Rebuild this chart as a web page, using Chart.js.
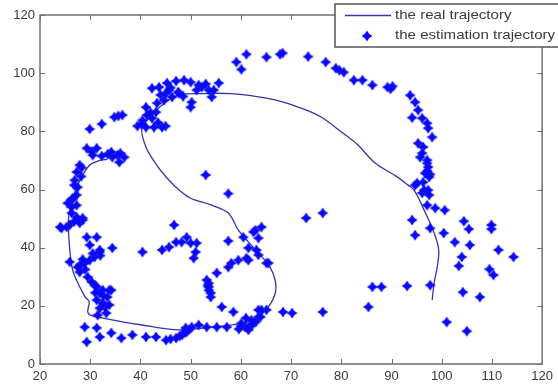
<!DOCTYPE html>
<html>
<head>
<meta charset="utf-8">
<script src="https://cdn.jsdelivr.net/npm/chart.js@4.4.1/dist/chart.umd.min.js"></script>
<style>
  html, body { margin: 0; padding: 0; background: #fff; }
  #wrap { width: 558px; height: 389px; }
</style>
</head>
<body>
<div id="wrap"><canvas id="chart" width="558" height="389"></canvas></div>
<script>
// Series labels, as written in the legend.
var realLabel = 'the real trajectory';
var estLabel  = 'the estimation trajectory';

// Axis ticks.
var xTicks = [20, 30, 40, 50, 60, 70, 80, 90, 100, 110, 120];
var yTicks = [0, 20, 40, 60, 80, 100, 120];

// The real trajectory, in drawing order.
var realX = [98.1, 98.5, 99.1, 99.4, 98.5, 96.5, 94.5, 93.3, 91.0, 86.8, 83.2, 80.3, 75.9, 72.0,
             67.0, 62.0, 58.0, 52.0, 47.7, 45.0, 42.5, 40.3, 41.1, 43.0, 45.1, 47.7, 50.0, 54.2,
             57.5, 59.5, 61.5, 62.9, 65.8, 67.0, 66.0, 63.5, 60.1, 54.2, 47.7, 40.0, 32.5, 30.0,
             29.5, 29.8, 29.0, 27.5, 26.5, 26.0, 25.7, 25.7, 26.5, 27.9, 29.9, 31.9, 33.4];
var realY = [22.0, 28.0, 33.3, 39.2, 45.0, 52.9, 59.8, 61.5, 64.5, 69.0, 75.5, 79.4, 85.0, 88.0,
             90.7, 92.3, 93.0, 93.0, 92.5, 90.0, 86.0, 81.0, 74.6, 69.0, 64.3, 59.8, 57.0, 54.6,
             51.9, 46.0, 42.0, 39.2, 33.3, 26.5, 21.0, 16.2, 14.0, 12.7, 11.7, 13.5, 15.8, 16.8,
             18.0, 21.5, 23.0, 28.0, 32.3, 38.0, 45.0, 50.5, 57.0, 63.0, 68.4, 70.0, 70.4];

// The estimated positions, read point by point.
var estX = [
  // top left cluster
  55.6, 54.6, 54.2, 51.6, 50.0, 48.7, 47.1, 45.3, 43.7, 42.3, 45.1, 46.3, 44.7, 43.3, 41.1, 41.3,
  40.4, 39.4, 41.1, 42.7, 44.3, 42.3, 43.1, 50.2, 50.0, 51.2, 52.2, 53.0, 46.0, 47.5, 48.5, 44.0,
  42.0, 40.2, 43.5, 45.0, 47.7, 45.7, 53.6,
  // top row
  61.1, 59.1, 60.1, 65.1, 67.8, 68.3, 73.4, 76.9, 78.9, 79.6, 80.5, 82.5, 84.2, 86.2, 89.2, 89.8, 90.2,
  // right descending arc
  93.7, 94.7, 95.3, 94.1, 96.1, 97.1, 97.3, 98.1, 95.3, 96.3, 96.1, 95.7, 97.1, 97.3, 96.7, 97.7,
  96.3, 94.7, 97.3, 96.1, 97.5, 95.1, 96.5, 97.5, 97.1, 98.7, 100.6, 97.1, 97.1,
  // right scatter
  94.1, 94.7, 97.7, 100.4, 104.4, 105.4, 109.9, 109.9, 102.6, 105.6, 111.3, 114.3, 104.0, 103.4,
  109.5, 110.3, 93.1, 97.7, 104.2, 107.6, 101.0, 105.0, 86.2, 88.0, 85.4, 73.0, 76.3, 76.3, 68.4, 70.2,
  // left arc, upper part
  36.4, 35.6, 34.8, 32.3, 29.9, 29.3, 31.3, 30.5, 32.3, 34.2, 35.4, 36.8, 35.8, 34.4, 33.5, 30.3,
  36.0, 27.9, 28.3, 27.3, 26.9, 27.5, 27.3, 26.3, 26.5, 26.3, 25.5, 27.3, 26.3, 27.3, 28.5, 25.3,
  24.0, 24.3, 25.9, 27.9, 28.5, 26.8, 28.2, 26.8,
  // left side, lower part
  29.3, 31.3, 29.9, 31.9, 30.9, 29.9, 28.9, 25.9, 27.5, 27.9, 29.5, 30.3, 34.4, 31.3, 32.5, 33.8,
  31.9, 33.4, 31.3, 32.5, 33.8, 31.9, 31.5, 33.2, 31.9, 30.5, 32.0, 28.5, 30.9, 34.2, 32.6, 31.0,
  32.9, 29.0, 28.0,
  // bottom row
  28.9, 31.3, 29.3, 31.9, 34.2, 36.2, 38.4, 41.1, 43.1, 45.1, 47.1, 48.3, 49.2, 50.2, 49.0, 48.8,
  49.6, 51.6, 53.2, 55.2, 57.2, 46.0, 47.8,
  // middle
  46.7, 40.4, 44.3, 45.7, 47.1, 48.2, 49.2, 50.0, 51.2, 51.0, 50.6, 53.0, 57.5,
  // middle loop
  53.2, 53.6, 53.6, 53.6, 54.0, 54.0, 53.4, 55.2, 57.5, 58.1, 59.5, 61.1, 61.5, 56.2, 58.5, 57.5,
  60.5, 62.5, 64.1, 62.9, 63.5, 63.1, 61.5, 63.5, 65.1, 65.5,
  // bottom right cluster
  60.1, 61.5, 62.9, 63.5, 64.1, 63.5, 65.1, 60.9, 62.1, 63.9, 61.5, 60.0, 62.3, 59.6, 61.0
];
var estY = [
  96.6, 94.2, 91.8, 95.9, 96.9, 97.6, 97.3, 96.6, 95.2, 94.8, 93.1, 91.8, 90.7, 89.7, 88.3, 85.6,
  83.8, 81.8, 81.4, 81.4, 81.4, 84.5, 86.6, 90.0, 88.3, 94.2, 95.2, 96.3, 95.0, 93.5, 92.0, 92.5,
  86.5, 82.5, 83.0, 81.8, 93.1, 94.2, 94.2,
  106.5, 103.8, 101.3, 105.5, 106.5, 106.9, 105.7, 103.8, 101.7, 101.0, 100.3, 97.6, 97.6, 95.9, 95.2, 94.6, 95.5,
  92.4, 90.0, 87.3, 84.7, 84.5, 82.8, 81.1, 78.0, 75.9, 74.6, 72.5, 71.1, 70.1, 67.7, 65.6, 65.2,
  62.5, 61.5, 59.8, 58.8, 64.3, 62.2, 59.8, 58.1, 54.6, 53.6, 52.9, 69.0, 66.3,
  49.5, 44.3, 46.7, 45.0, 49.1, 46.4, 47.8, 46.4, 41.9, 40.9, 39.2, 36.8, 36.8, 33.7,
  32.6, 30.6, 26.8, 27.1, 24.7, 23.0, 14.4, 11.3, 26.5, 26.5, 19.6, 50.2, 51.9, 17.9, 17.9, 17.5,
  85.6, 85.3, 84.9, 82.5, 80.8, 74.2, 74.2, 71.8, 71.5, 72.9, 71.8, 71.1, 69.4, 71.1, 72.2, 73.0,
  72.5, 68.4, 67.5, 66.0, 63.2, 60.8, 58.1, 56.4, 57.0, 54.0, 55.3, 54.6, 51.9, 50.5, 50.2, 47.1,
  47.1, 46.7, 47.8, 48.5, 49.5, 49.0, 64.5, 61.5,
  43.6, 43.6, 40.9, 39.2, 36.8, 35.7, 34.7, 35.1, 33.3, 31.6, 29.9, 28.2, 39.9, 26.5, 25.4, 25.4,
  24.4, 23.0, 22.0, 21.0, 20.3, 19.2, 16.8, 17.5, 38.5, 38.0, 37.3, 36.0, 27.1, 25.4, 23.5, 24.5,
  19.6, 32.5, 34.0,
  12.7, 12.4, 7.6, 9.3, 10.7, 8.9, 10.0, 9.3, 9.3, 8.2, 8.9, 10.0, 11.0, 12.7, 12.4, 10.8,
  11.8, 13.4, 12.7, 12.7, 12.7, 8.6, 9.6,
  47.8, 38.5, 39.2, 40.2, 41.9, 41.9, 43.6, 41.6, 41.6, 38.5, 36.4, 65.0, 58.6,
  28.9, 27.8, 26.5, 25.4, 24.4, 23.0, 27.0, 31.3, 33.3, 34.7, 35.7, 36.4, 35.7, 19.6, 17.9, 42.3,
  43.6, 45.4, 47.1, 46.0, 43.3, 39.2, 39.9, 37.5, 34.7, 34.7,
  14.0, 12.7, 14.4, 16.2, 18.6, 18.6, 18.6, 12.7, 15.1, 16.2, 11.7, 13.0, 13.5, 12.0, 15.8
];

var LINE_COLOR   = '#3434ac';
var MARKER_COLOR = '#0a0af5';
var AXIS_COLOR   = '#6f6f6f';
var TEXT_COLOR   = '#3a3a3a';
var FONT_FAMILY  = '"Liberation Sans", Arial, sans-serif';

// Builds the blurry diamond-like asterisk used for the estimated points.
function makeMarker(color){
  var size = 14;
  var c = document.createElement('canvas');
  c.width = size;
  c.height = size;
  var g = c.getContext('2d');
  var m = size / 2;
  g.fillStyle = color;
  g.shadowColor = 'rgba(40,40,255,0.6)';
  g.shadowBlur = 1.5;
  g.beginPath();
  for (var k = 0; k < 8; k++) {
    var ang = -Math.PI / 2 + k * Math.PI / 4;
    var rad = (k % 2 == 0) ? 5.3 : 3.0;
    var px = m + rad * Math.cos(ang);
    var py = m + rad * Math.sin(ang);
    if (k == 0) g.moveTo(px, py); else g.lineTo(px, py);
  }
  g.closePath();
  g.fill();
  return c;
}

var marker = makeMarker(MARKER_COLOR);

function toPoints(xs, ys){
  var pts = [];
  for (var i = 0; i < xs.length; i++) pts.push({ x: xs[i], y: ys[i] });
  return pts;
}

// Legend text in the source is a little wider than the font, so stretch it.
function stretchedText(ctx, text, x, y, sx){
  ctx.save();
  ctx.translate(x, y);
  ctx.scale(sx, 1);
  ctx.fillText(text, 0, 0);
  ctx.restore();
}

// Draws the closed box, inward ticks on all four sides and the legend.
var boxPlugin = {
  id: 'matlabBox',
  afterDraw: function(chart){
    var ctx = chart.ctx;
    var a = chart.chartArea;
    var sx = chart.scales.x;
    var sy = chart.scales.y;
    ctx.save();
    ctx.strokeStyle = AXIS_COLOR;
    ctx.lineWidth = 1.5;
    ctx.strokeRect(a.left, a.top, a.right - a.left, a.bottom - a.top);

    ctx.lineWidth = 1;
    ctx.beginPath();
    xTicks.forEach(function(v){
      var px = Math.round(sx.getPixelForValue(v)) + 0.5;
      ctx.moveTo(px, a.bottom); ctx.lineTo(px, a.bottom - 5);
      ctx.moveTo(px, a.top);    ctx.lineTo(px, a.top + 5);
    });
    yTicks.forEach(function(v){
      var py = Math.round(sy.getPixelForValue(v)) + 0.5;
      ctx.moveTo(a.left, py);  ctx.lineTo(a.left + 5, py);
      ctx.moveTo(a.right, py); ctx.lineTo(a.right - 5, py);
    });
    ctx.stroke();

    // legend box, sitting over the top right corner of the axes
    var lx = 335, ly = 4, lw = 240, lh = 43;
    ctx.fillStyle = '#ffffff';
    ctx.fillRect(lx, ly, lw, lh);
    ctx.strokeStyle = '#555555';
    ctx.lineWidth = 1.5;
    ctx.strokeRect(lx, ly, lw, lh);

    ctx.strokeStyle = LINE_COLOR;
    ctx.lineWidth = 1.3;
    ctx.beginPath();
    ctx.moveTo(345, 15.5); ctx.lineTo(391, 15.5);
    ctx.stroke();
    ctx.drawImage(marker, 367 - marker.width / 2, 36 - marker.height / 2);

    ctx.fillStyle = TEXT_COLOR;
    ctx.font = '13px ' + FONT_FAMILY;
    ctx.textBaseline = 'middle';
    ctx.textAlign = 'left';
    stretchedText(ctx, realLabel, 395, 15, 1.16);
    stretchedText(ctx, estLabel, 395, 35, 1.16);
    ctx.restore();
  }
};

var tickFont = { family: FONT_FAMILY, size: 13 };

new Chart(document.getElementById('chart'), {
  type: 'scatter',
  data: {
    datasets: [{
      label: realLabel,
      data: toPoints(realX, realY),
      showLine: true,
      borderColor: LINE_COLOR,
      borderWidth: 1.3,
      pointRadius: 0,
      tension: 0.35,
      fill: false,
      order: 1
    }, {
      label: estLabel,
      data: toPoints(estX, estY),
      showLine: false,
      pointStyle: marker,
      pointRadius: 6,
      order: 0
    }]
  },
  options: {
    responsive: false,
    animation: false,
    devicePixelRatio: 1,
    layout: { padding: { top: 15, right: 12, left: 0, bottom: 0 } },
    plugins: {
      legend: { display: false },
      tooltip: { enabled: false }
    },
    scales: {
      x: {
        type: 'linear',
        min: 20,
        max: 120,
        afterBuildTicks: function(s){ s.ticks = xTicks.map(function(v){ return { value: v }; }); },
        afterFit: function(s){ s.height = 25; },
        ticks: { color: TEXT_COLOR, font: tickFont, padding: 5, maxRotation: 0 },
        grid: { display: false, drawTicks: false },
        border: { display: false }
      },
      y: {
        type: 'linear',
        min: 0,
        max: 120,
        afterBuildTicks: function(s){ s.ticks = yTicks.map(function(v){ return { value: v }; }); },
        afterFit: function(s){ s.width = 40; },
        ticks: { color: TEXT_COLOR, font: tickFont, padding: 5 },
        grid: { display: false, drawTicks: false },
        border: { display: false }
      }
    }
  },
  plugins: [boxPlugin]
});
</script>
</body>
</html>
